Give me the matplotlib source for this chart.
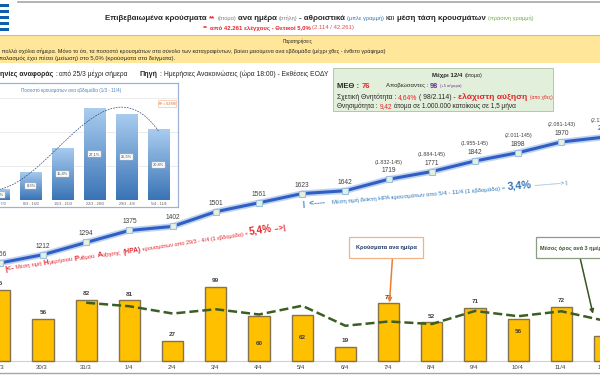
import numpy as np
import matplotlib
matplotlib.use('Agg')
import matplotlib.pyplot as plt
from matplotlib.patches import Rectangle
from matplotlib.colors import LinearSegmentedColormap
import matplotlib.patheffects as pe

# ---------------- data ----------------
dates = ['29/3', '30/3', '31/3', '1/4', '2/4', '3/4', '4/4', '5/4', '6/4',
         '7/4', '8/4', '9/4', '10/4', '11/4', '12/4']
daily_cases = [95, 56, 82, 81, 27, 99, 60, 62, 19, 77, 52, 71, 56, 72, 33]
cumulative = [1156, 1212, 1294, 1375, 1402, 1501, 1561, 1623, 1642, 1719,
              1771, 1842, 1898, 1970, 2003]
cum_notes = ['', '', '', '', '', '', '', '', '', '(1.832-145)', '(1.884-145)',
             '(1.955-145)', '(2.011-145)', '(2.081-143)', '(2.114-143)']
avg3_start = 2
avg3 = [77.7, 73.0, 63.3, 69.0, 62.0, 73.7, 47.0, 52.7, 49.3, 66.7, 59.7, 66.3, 53.7]

weeks = ['1/3 - 7/3', '8/3 - 14/3', '15/3 - 21/3', '22/3 - 28/3', '29/3 - 4/4', '5/4 - 11/4']
weekly_pct = [3.2, 8.3, 15.4, 27.1, 25.5, 20.8]

# ---------------- figure ----------------
W, H, DPI = 600, 375, 100
plt.rcParams['font.family'] = ['Liberation Sans', 'DejaVu Sans']
fig = plt.figure(figsize=(W / DPI, H / DPI), dpi=DPI)
fig.patch.set_facecolor('white')
renderer = fig.canvas.get_renderer()

RED = '#E3262B'
BLUE = '#2E75B6'
DARK = '#262626'


def F(x, y):
    return (x / W, 1 - y / H)


def rect(x0, y0, x1, y1, **kw):
    r = Rectangle(F(x0, y1), (x1 - x0) / W, (y1 - y0) / H,
                  transform=fig.transFigure, **kw)
    fig.add_artist(r)
    return r


def hline(y, x0=0, x1=W, **kw):
    fig.add_artist(plt.Line2D([x0 / W, x1 / W], [1 - y / H, 1 - y / H],
                              transform=fig.transFigure, **kw))


def measure(s, kw):
    t = fig.text(0, 0, s, **kw)
    w = t.get_window_extent(renderer).width
    t.remove()
    return w


def space_w(kw):
    return measure('a a', kw) - measure('aa', kw)


def rich(x, y, segs, ha='left', rot=0, fit=None, zorder=5):
    items = []
    for s, kw in segs:
        k = {'fontsize': 5.5, 'color': DARK}
        k.update(kw)
        items.append([s, k])

    def widths():
        out = []
        for s, k in items:
            core = s.strip(' ')
            lead = len(s) - len(s.lstrip(' '))
            trail = len(s) - len(s.rstrip(' '))
            sw = space_w(k)
            out.append((lead * sw, measure(core, k) if core else 0, trail * sw))
        return out

    ws = widths()
    total = sum(a + b + c for a, b, c in ws)
    if fit:
        sc = fit / total
        for it in items:
            it[1]['fontsize'] *= sc
        ws = widths()
        total = sum(a + b + c for a, b, c in ws)
    off = {'left': 0, 'center': -total / 2, 'right': -total}[ha]
    th = np.deg2rad(rot)
    for (s, k), (a, b, c) in zip(items, ws):
        off += a
        core = s.strip(' ')
        if core:
            px = x + off * np.cos(th)
            py = y - off * np.sin(th)
            fig.text(px / W, 1 - py / H, core, rotation=rot, rotation_mode='anchor',
                     ha='left', va='baseline', zorder=zorder, **k)
        off += b + c


# ---------------- main chart axes ----------------
STEP, X0 = 43.2, -0.2
XL = ((0 - X0) / STEP, (W - X0) / STEP)
BASE, BSC = 361.0, 0.75
xs = np.arange(len(dates))

axb = fig.add_axes([0, 0, 1, 1])
axb.set_xlim(*XL)
axb.set_ylim((BASE - H) / BSC, BASE / BSC)
axb.axis('off')
axb.patch.set_alpha(0)

axb.axhline(0, color='#D0D0D0', lw=0.8, zorder=1)
axb.bar(xs, daily_cases, width=0.49, color='#FFC000', edgecolor='#85724E',
        linewidth=1.0, zorder=2)
inside = {6: 0.38, 7: 0.5, 12: 0.71}
for i, v in enumerate(daily_cases):
    if i in inside:
        yv = v * inside[i]
    else:
        yv = v + 6 / BSC
    axb.text(i, yv, str(v), ha='center', va='center', fontsize=4.6,
             fontweight='bold', color='#404040', zorder=5)
for i, d in enumerate(dates):
    axb.text(i - 0.02, (BASE - 367.5) / BSC, d, ha='center', va='center',
             fontsize=4.3, color='#404040')
axb.plot(xs[avg3_start:], avg3, color='#3B5E22', lw=1.8, dashes=(3.6, 1.6),
         zorder=4)

# cumulative line axes
LY0, LV0, LSC = 263.0, 1156.0, 0.1487
axl = fig.add_axes([0, 0, 1, 1])
axl.set_xlim(*XL)
axl.set_ylim(LV0 - (H - LY0) / LSC, LV0 + LY0 / LSC)
axl.axis('off')
axl.patch.set_alpha(0)
axl.plot(xs, cumulative, color='#2F5FC4', lw=2.2, solid_capstyle='round',
         path_effects=[pe.Stroke(linewidth=4.6, foreground='#BFD3F0'), pe.Normal()],
         zorder=3)
axl.plot(xs, cumulative, ls='none', marker='s', ms=4.6, mfc='#E6F0DC',
         mec='#9CC0E4', mew=0.8, zorder=4)
for i, v in enumerate(cumulative):
    axl.text(i, v + 8.5 / LSC, str(v), ha='center', va='center', fontsize=4.8,
             color='#404040', zorder=5)
    if cum_notes[i]:
        axl.text(i, v + 17 / LSC, cum_notes[i], ha='center', va='center',
                 fontsize=3.9, color='#404040', zorder=5)

# ---------------- header ----------------
hline(1.5, 18, W, color='#A6A6A6', lw=1.2)
stripe_cols = ['#0D5EAF', 'white'] * 5
for j in range(9):
    rect(0, 4 + 3 * j, 8.5, 7 + 3 * j, facecolor=stripe_cols[j], edgecolor='none')

rich(105, 20, [
    ('Επιβεβαιωμένα κρούσματα ', {'fontweight': 'bold', 'fontsize': 6.4}),
    ('** ', {'fontweight': 'bold', 'color': RED, 'fontsize': 6.4}),
    ('(άτομα) ', {'fontsize': 4.6, 'color': '#7F7F7F'}),
    ('ανα ημέρα ', {'fontweight': 'bold', 'fontsize': 6.4}),
    ('(στήλη) ', {'fontsize': 4.6, 'color': '#7F7F7F'}),
    ('- αθροιστικά ', {'fontweight': 'bold', 'fontsize': 6.4}),
    ('(μπλε γραμμή) ', {'fontsize': 4.6, 'color': BLUE}),
    ('και ', {'fontsize': 5.8}),
    ('μέση τάση κρουσμάτων ', {'fontweight': 'bold', 'fontsize': 6.4}),
    ('(πράσινη γραμμή)', {'fontsize': 4.6, 'color': '#70AD47'}),
], fit=428)
rich(203, 29.5, [
    ('** ', {'fontweight': 'bold', 'color': RED, 'fontsize': 5.0}),
    ('από 42.261 ελέγχους - Θετικοί 5,0% ', {'fontweight': 'bold', 'color': RED, 'fontsize': 4.6}),
    ('(2.114 / 42.261)', {'color': '#E05050', 'fontsize': 4.6}),
], fit=150)

hline(34.5, 0, W, color='#BFBFBF', lw=0.8)
rect(0, 35.5, W, 63, facecolor='#FFE699', edgecolor='none')
rich(298, 43.5, [('Παρατηρήσεις', {'fontsize': 5.0})], ha='center', fit=30)
rich(-1, 52.8, [
    ('ι πολλά σχόλια σήμερα. Μόνο το ότι, τα ποσοστό κρουσμάτων στα σύνολο των '
     'καταγραφέντων, βαίνει μειούμενα ανα εβδομάδα (μέχρι χθες - ένθετο γράφημα)',
     {'fontsize': 5.0}),
], fit=389)
rich(-1, 60, [
    ('πολασμός έχει πέσει (μείωση) στο 5,0% (κρούσματα στα δείγματα).',
     {'fontsize': 5.0}),
], fit=175)

rich(0, 75.5, [
    ('ηνίες αναφοράς', {'fontweight': 'bold', 'fontsize': 5.6}),
    (' : ', {'fontsize': 5.4}),
    ('από 25/3 μέχρι σήμερα', {'fontsize': 5.3}),
], fit=127)
rich(140, 75.5, [
    ('Πηγή', {'fontweight': 'bold', 'fontsize': 5.6}),
    (' : ', {'fontsize': 5.4}),
    ('Ημερήσιες Ανακοινώσεις (ώρα 18:00) - Εκθέσεις ΕΟΔΥ', {'fontsize': 5.3}),
], fit=188)

# ---------------- info box ----------------
rect(333, 68, 553, 110.5, facecolor='#E2EFDA', edgecolor='#B4C7A8', lw=0.7, zorder=4)
rich(457, 76.5, [
    ('Μέχρι 12/4 ', {'fontweight': 'bold', 'fontsize': 5.6}),
    ('(άτομα)', {'fontsize': 4.8}),
], ha='center', fit=49)
rich(337, 87.5, [
    ('ΜΕΘ : ', {'fontweight': 'bold', 'fontsize': 6.4}),
    ('76', {'fontweight': 'bold', 'fontsize': 6.4, 'color': RED}),
], fit=33)
rich(386, 87.5, [
    ('Αποβιώσαντες : ', {'fontsize': 5.4}),
    ('98 ', {'fontweight': 'bold', 'fontsize': 6.6, 'color': '#7030A0'}),
    ('(+5 σήμερα)', {'fontsize': 3.6, 'color': '#7030A0'}),
], fit=77)
rich(337, 98.8, [
    ('Σχετική Θνητότητα : ', {'fontsize': 5.4}),
    ('4,64%', {'fontsize': 5.4, 'color': RED}),
    (' ( 98/2.114) - ', {'fontsize': 5.4}),
    ('ελάχιστη αύξηση ', {'fontweight': 'bold', 'fontsize': 6.8, 'color': RED}),
    ('(απο χθες)', {'fontsize': 3.8, 'color': RED}),
], fit=215)
rich(337, 107.8, [
    ('Θνησιμότητα : ', {'fontsize': 5.4}),
    ('9,42', {'fontsize': 5.4, 'color': RED}),
    (' άτομα σε 1.000.000 κατοίκους σε 1,5 μήνα', {'fontsize': 5.4}),
], fit=181)

# ---------------- annotations ----------------
rich(5, 271, [
    ('|<-', {'fontweight': 'bold', 'fontsize': 6.5, 'color': RED}),
    (' Μέση τιμή ', {'fontsize': 4.8, 'color': RED}),
    ('Η', {'fontweight': 'bold', 'fontsize': 6.0, 'color': RED}),
    ('μερήσιου ', {'fontsize': 4.8, 'color': RED}),
    ('Ρ', {'fontweight': 'bold', 'fontsize': 6.0, 'color': RED}),
    ('υθμού ', {'fontsize': 4.8, 'color': RED}),
    ('Α', {'fontweight': 'bold', 'fontsize': 6.0, 'color': RED}),
    ('ύξησης ', {'fontsize': 4.8, 'color': RED}),
    ('(ΗΡΑ) ', {'fontweight': 'bold', 'fontsize': 5.4, 'color': RED}),
    ('κρουσμάτων απο 29/3 - 4/4 (1 εβδομάδα) = ', {'fontsize': 4.5, 'color': RED}),
    ('5,4%', {'fontweight': 'bold', 'fontsize': 8.2, 'color': RED}),
    (' -->|', {'fontweight': 'bold', 'fontsize': 6.5, 'color': RED}),
], rot=8.4, fit=283)
rich(303, 206, [
    ('|  <----   ', {'fontweight': 'bold', 'fontsize': 6.2, 'color': BLUE}),
    ('Μέση τιμή δείκτη ΗΡΑ κρουσμάτων απο 5/4 - 11/4 (1 εβδομάδα) = ',
     {'fontsize': 4.6, 'color': BLUE}),
    ('3,4% ', {'fontweight': 'bold', 'fontsize': 8.2, 'color': BLUE}),
    ('-------------> |', {'fontsize': 4.6, 'color': BLUE}),
], rot=4.6, fit=265)

rect(349, 237, 423, 257.5, facecolor='white', edgecolor='#F4B183', lw=0.9, zorder=4)
rich(386, 249.5, [('Κρούσματα ανα ημέρα', {'fontweight': 'bold', 'fontsize': 4.4,
                                           'color': '#203864'})], ha='center', fit=60)
rect(536, 237, 660, 257.5, facecolor='white', edgecolor='#8C9C80', lw=0.9, zorder=4)
rich(539.5, 249.5, [('Μέσος όρος ανά 3 ημέρες', {'fontweight': 'bold', 'fontsize': 4.4,
                                               'color': '#375623'})], fit=68)
axb.annotate('', xy=(9.02, daily_cases[9] + 1), xycoords='data',
             xytext=F(392.5, 257.5), textcoords='figure fraction',
             arrowprops=dict(arrowstyle='-|>', color='#ED7D31', lw=1.1,
                             mutation_scale=6, shrinkA=0, shrinkB=0), zorder=6)
axb.annotate('', xy=(13.73, 63), xycoords='data',
             xytext=F(580, 257.5), textcoords='figure fraction',
             arrowprops=dict(arrowstyle='-|>', color='#375623', lw=1.1,
                             mutation_scale=6, shrinkA=0, shrinkB=0), zorder=6)

hline(372.5, 0, W, color='#A6A6A6', lw=1.0)

# ---------------- inset chart ----------------
IB, IT, IR = 207.0, 83.0, 177.5
ISC, IX0, ISTEP = 3.39, -1.0, 31.9
axi = fig.add_axes([0, 1 - IB / H, IR / W, (IB - IT) / H])
ixl = ((0 - IX0) / ISTEP, (IR - IX0) / ISTEP)
iyl = (-(IB - 200) / ISC, (200 - IT) / ISC)
axi.spines['left'].set_visible(False)
for sp in ['top', 'right', 'bottom']:
    axi.spines[sp].set_color('#9DB2D3')
    axi.spines[sp].set_linewidth(0.9)
axi.set_xticks([])
axi.set_yticks([])
for g in (10, 20, 30):
    axi.axhline(g, color='#E3E3E3', lw=0.5, zorder=0)
ks = np.arange(len(weeks))
ibars = axi.bar(ks, weekly_pct, width=0.66, color='none', edgecolor='none', zorder=2)
grad = np.linspace(0, 1, 64).reshape(-1, 1)
cmap = LinearSegmentedColormap.from_list('g', ['#3A74B6', '#A9CCEF'])
for k, (b, v) in enumerate(zip(ibars, weekly_pct)):
    im = axi.imshow(grad, extent=[k - 0.33, k + 0.33, 0, v], origin='lower',
                    cmap=cmap, aspect='auto', zorder=2)
    im.set_clip_path(b)
    axi.text(k, v / 2, f'{v:.1f}%'.replace('.', ','), fontsize=2.9, ha='center',
             va='center', color='#404040', zorder=4,
             bbox=dict(boxstyle='square,pad=0.25', fc='white', ec='#C8C8C8', lw=0.3))
    axi.text(k, -(203.5 - 200) / ISC, weeks[k], fontsize=2.7, ha='center',
             va='center', color='#595959')
coef = np.polyfit(ks, weekly_pct, 3)
kk = np.linspace(-0.2, 5, 120)
axi.plot(kk, np.polyval(coef, kk), color='#2F4A7A', lw=0.5, ls=(0, (2.5, 1.5)), zorder=3)
axi.set_xlim(*ixl)
axi.set_ylim(*iyl)
rich(71, 92, [('Ποσοστό κρουσμάτων ανα εβδομάδα (1/3 - 11/4)',
               {'fontsize': 3.6, 'color': '#4F81BD'})], ha='center', fit=102)
fig.text(*F(167, 103.5), 'R² = 0,9799', fontsize=2.3, ha='center', va='center',
         color='#C55A11', zorder=6,
         bbox=dict(boxstyle='square,pad=0.35', fc='white', ec='#F4B183', lw=0.4))

fig.savefig('out.png', dpi=DPI, facecolor='white')
